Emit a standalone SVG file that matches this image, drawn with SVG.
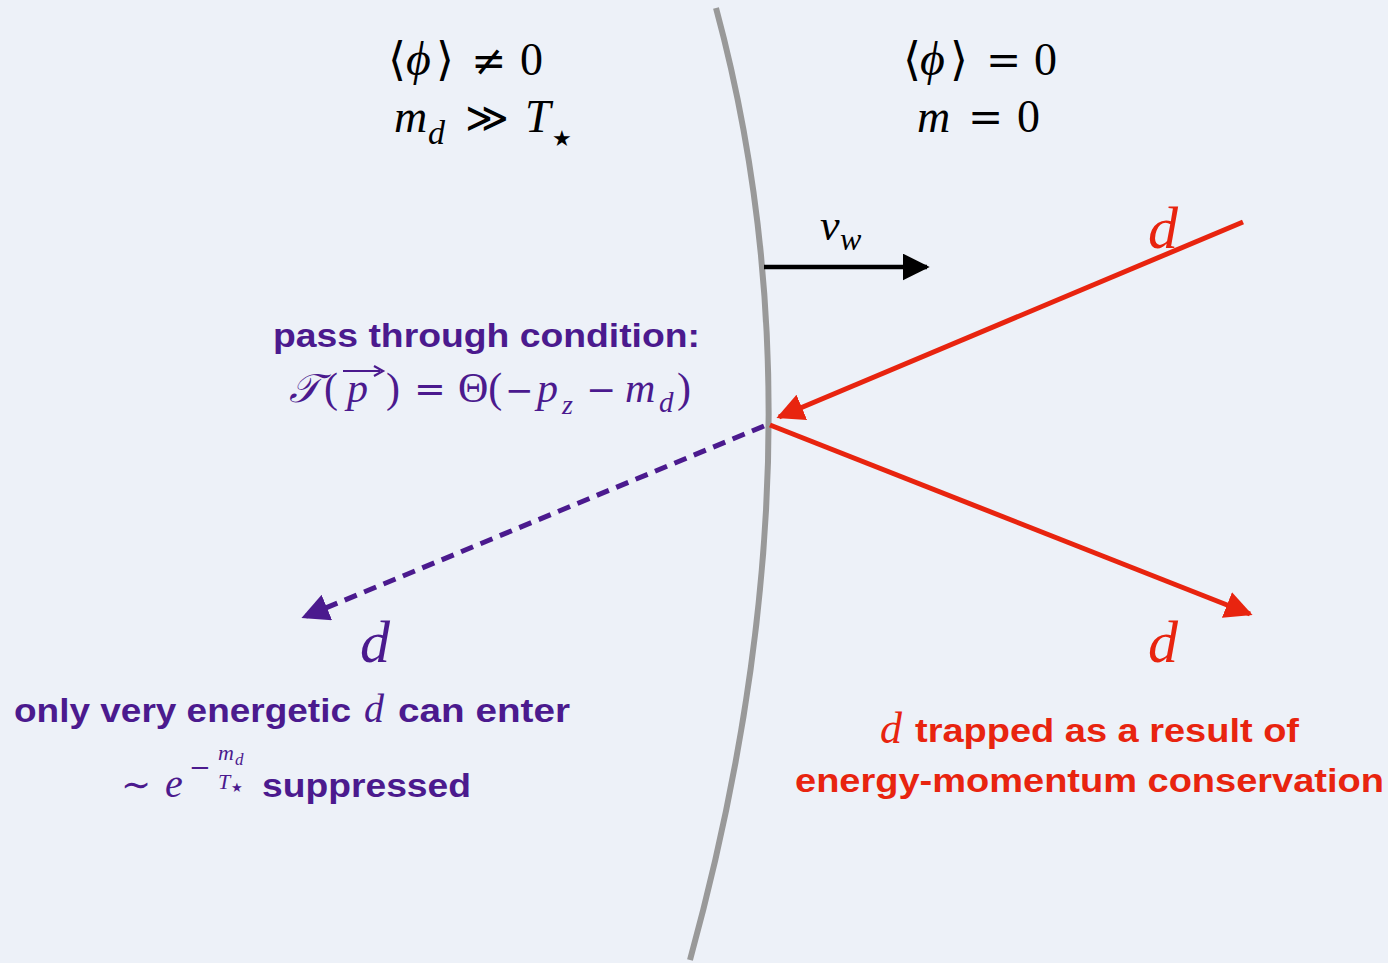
<svg xmlns="http://www.w3.org/2000/svg" width="1388" height="963" viewBox="0 0 1388 963">
<defs>
<style>
.m{font-family:"Liberation Serif","DejaVu Serif",serif;}
.o{font-family:"DejaVu Serif","Liberation Serif",serif;}
.s{font-family:"DejaVu Sans","Liberation Sans",sans-serif;}
.i{font-style:italic;}
.b{font-family:"Liberation Sans",Arial,sans-serif;font-weight:bold;}
.pu{fill:#4b1a8e;}
.rd{fill:#e8240f;}
.bk{fill:#000;}
</style>
<marker id="ahK" viewBox="0 0 10 10" refX="9" refY="5" markerWidth="6" markerHeight="6" orient="auto" markerUnits="strokeWidth"><path d="M0,0 L10,5 L0,10 z" fill="#000"/></marker>
<marker id="ahR" viewBox="0 0 10 10" refX="9" refY="5" markerWidth="5.5" markerHeight="5.5" orient="auto" markerUnits="strokeWidth"><path d="M0,0 L10,5 L0,10 z" fill="#e8240f"/></marker>
<marker id="ahP" viewBox="0 0 10 10" refX="9" refY="5" markerWidth="5.5" markerHeight="5.5" orient="auto" markerUnits="strokeWidth"><path d="M0,0 L10,5 L0,10 z" fill="#4b1a8e"/></marker>
</defs>
<rect width="1388" height="963" fill="#edf1f8"/>

<g id="wall">
<path d="M716,8 Q833,440 690,960" fill="none" stroke="#999999" stroke-width="6"/>
</g>

<g id="connectors">
<line x1="764" y1="267" x2="927" y2="267" stroke="#000" stroke-width="4.5" marker-end="url(#ahK)"/>
<line x1="1243" y1="222" x2="779" y2="417" stroke="#e8240f" stroke-width="5" marker-end="url(#ahR)"/>
<line x1="770" y1="425" x2="1250" y2="614" stroke="#e8240f" stroke-width="5" marker-end="url(#ahR)"/>
<line x1="764" y1="426" x2="304" y2="617" stroke="#4b1a8e" stroke-width="5" stroke-dasharray="13,8" marker-end="url(#ahP)"/>
</g>

<g id="broken-phase">
<text class="m bk" x="388" y="75" font-size="46">⟨</text>
<text class="m bk i" x="406" y="75" font-size="48">ϕ</text>
<text class="m bk" x="436" y="75" font-size="46">⟩</text>
<text class="o bk" x="471" y="75" font-size="42">≠</text>
<text class="m bk" x="520" y="75" font-size="46">0</text>
<text class="m bk i" x="394" y="132" font-size="46">m</text>
<text class="m bk i" x="428" y="144" font-size="34">d</text>
<text class="o bk" x="465" y="132" font-size="42">≫</text>
<text class="m bk i" x="525" y="132" font-size="46">T</text>
<text class="s bk" x="552" y="146" font-size="22">★</text>
</g>

<g id="symmetric-phase">
<text class="m bk" x="903" y="75" font-size="46">⟨</text>
<text class="m bk i" x="920" y="75" font-size="48">ϕ</text>
<text class="m bk" x="950" y="75" font-size="46">⟩</text>
<text class="o bk" x="986" y="75" font-size="42">=</text>
<text class="m bk" x="1034" y="75" font-size="46">0</text>
<text class="m bk i" x="917" y="132" font-size="46">m</text>
<text class="o bk" x="968" y="132" font-size="42">=</text>
<text class="m bk" x="1017" y="132" font-size="46">0</text>
</g>

<g id="wall-velocity">
<text class="m bk i" x="820" y="240" font-size="44">v</text>
<text class="m bk i" x="840" y="250" font-size="32">w</text>
</g>

<g id="incoming-d">
<text class="m rd i" x="1148" y="248" font-size="60">d</text>
</g>

<g id="reflected-d">
<text class="m rd i" x="1148" y="662" font-size="60">d</text>
</g>

<g id="transmitted-d">
<text class="m pu i" x="360" y="662" font-size="60">d</text>
</g>

<g id="pass-condition">
<text class="b pu" x="273" y="347" font-size="33" textLength="427" lengthAdjust="spacingAndGlyphs">pass through condition:</text>
<text class="m pu i" x="289" y="402" font-size="40">𝒯</text>
<text class="m pu" x="324" y="402" font-size="42">(</text>
<text class="m pu i" x="347" y="402" font-size="42">p</text>
<path d="M343,371 L380,371" stroke="#4b1a8e" stroke-width="2.2" fill="none"/>
<path d="M374,366 L383,371 L374,376" stroke="#4b1a8e" stroke-width="2.2" fill="none"/>
<text class="m pu" x="386" y="402" font-size="42">)</text>
<text class="o pu" x="414" y="402" font-size="38">=</text>
<text class="m pu" x="458" y="402" font-size="42">Θ(</text>
<text class="o pu" x="505" y="402" font-size="34">−</text>
<text class="m pu i" x="537" y="402" font-size="42">p</text>
<text class="m pu i" x="562" y="414" font-size="28">z</text>
<text class="o pu" x="586" y="402" font-size="36">−</text>
<text class="m pu i" x="625" y="402" font-size="42">m</text>
<text class="m pu i" x="659" y="412" font-size="29">d</text>
<text class="m pu" x="677" y="402" font-size="42">)</text>
</g>

<g id="enter-label">
<text class="b pu" x="14" y="722" font-size="33" textLength="337" lengthAdjust="spacingAndGlyphs">only very energetic</text>
<text class="m pu i" x="364" y="722" font-size="40">d</text>
<text class="b pu" x="398" y="722" font-size="33" textLength="172" lengthAdjust="spacingAndGlyphs">can enter</text>
<text class="o pu" x="121" y="797" font-size="36">∼</text>
<text class="m pu i" x="165" y="797" font-size="40">e</text>
<text class="o pu" x="189" y="776" font-size="26">−</text>
<text class="m pu i" x="218" y="760" font-size="22">m</text>
<text class="m pu i" x="235" y="765" font-size="17">d</text>
<text class="m pu i" x="218" y="789" font-size="22">T</text>
<text class="s pu" x="231" y="792" font-size="13">★</text>
<text class="b pu" x="262" y="797" font-size="33" textLength="209" lengthAdjust="spacingAndGlyphs">suppressed</text>
</g>

<g id="trapped-label">
<text class="m rd i" x="880" y="743" font-size="44">d</text>
<text class="b rd" x="915" y="742" font-size="33" textLength="384" lengthAdjust="spacingAndGlyphs">trapped as a result of</text>
<text class="b rd" x="795" y="792" font-size="33" textLength="589" lengthAdjust="spacingAndGlyphs">energy-momentum conservation</text>
</g>
</svg>
